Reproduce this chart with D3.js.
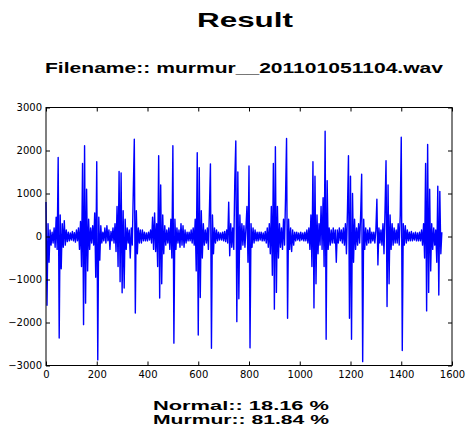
<!DOCTYPE html>
<meta charset="utf-8">
<head>
<style>
  body { margin: 0; background: #fff; }
  .tick text { font-family: "DejaVu Sans", sans-serif; font-size: 10px; fill: #000; }
  .heading { font-family: "Liberation Sans", Arial, sans-serif; font-weight: bold; fill: #000; }
</style>
</head>
<script src="https://d3js.org/d3.v7.min.js"></script>
<div id="chart"></div>
<script>
// texts
const title = "Result";
const fileLabel = "Filename:: murmur__201101051104.wav";
const classNames = ["Normal", "Murmur"];
const classScores = [18.16, 81.84];

// axis ticks
const xTicks = [0, 200, 400, 600, 800, 1000, 1200, 1400, 1600];
const yTicks = [-3000, -2000, -1000, 0, 1000, 2000, 3000];

// waveform: [sample, amplitude]
const waveform = [
  [0,800],[4,-1600],[8,300],[12,-600],[16,150],[20,-200],[24,100],[28,-150],[32,200],[36,-250],
  [40,450],[44,-300],[48,1840],[52,-2360],[56,500],[60,-750],[64,300],[68,-250],[72,370],[76,-200],
  [80,150],[84,-120],[88,100],[92,-100],[96,80],[100,-80],[104,120],[108,-100],[112,90],[116,-130],
  [120,150],[124,-100],[128,200],[132,-300],[136,350],[140,-700],[144,1700],[148,-2050],[152,2110],[156,-1550],
  [160,1100],[164,-800],[168,400],[172,-300],[176,200],[180,-150],[184,250],[188,-200],[192,550],[196,-950],
  [200,1740],[204,-2870],[208,450],[212,-550],[216,250],[220,-150],[224,100],[228,-100],[232,200],[236,-150],
  [240,250],[244,-100],[248,150],[252,-300],[256,120],[260,-100],[264,200],[268,-150],[272,300],[276,-350],
  [280,700],[284,-700],[288,1510],[292,-1050],[296,1480],[300,-1310],[304,600],[308,-1200],[312,400],[316,-300],
  [320,200],[324,-150],[328,150],[332,-500],[336,200],[340,-200],[344,1050],[348,2260],[352,-1780],[356,600],
  [360,-400],[364,200],[368,-150],[372,150],[376,-150],[380,150],[384,-100],[388,100],[392,-100],[396,80],
  [400,-100],[404,100],[408,-80],[412,150],[416,-150],[420,450],[424,-300],[428,550],[432,-350],[436,300],
  [440,-700],[444,1880],[448,-1430],[452,1200],[456,-1100],[460,500],[464,-400],[468,250],[472,-200],[476,150],
  [480,-150],[484,200],[488,-300],[492,400],[496,-500],[500,2110],[504,-2480],[508,400],[512,-300],[516,200],
  [520,-150],[524,150],[528,-250],[532,300],[536,-200],[540,250],[544,-250],[548,150],[552,-150],[556,100],
  [560,-100],[564,100],[568,-100],[572,150],[576,-150],[580,200],[584,-200],[588,400],[592,-800],[596,1950],
  [600,-2290],[604,1600],[608,-1420],[612,600],[616,-500],[620,300],[624,-200],[628,150],[632,-150],[636,200],
  [640,-300],[644,600],[648,1690],[652,-2600],[656,500],[660,-400],[664,200],[668,-150],[672,150],[676,-100],
  [680,100],[684,-80],[688,80],[692,-80],[696,100],[700,-100],[704,120],[708,-120],[712,150],[716,-150],
  [720,800],[724,-450],[728,300],[732,-250],[736,200],[740,-300],[744,1300],[748,2220],[752,-1980],[756,1500],
  [760,-1450],[764,500],[768,-300],[772,300],[776,-200],[780,250],[784,-250],[788,200],[792,700],[796,-600],
  [800,1640],[804,-2590],[808,300],[812,-250],[816,200],[820,-150],[824,150],[828,-100],[832,100],[836,-100],
  [840,100],[844,-80],[848,100],[852,-100],[856,80],[860,-100],[864,120],[868,-150],[872,200],[876,-250],
  [880,300],[884,-400],[888,700],[892,-900],[896,1700],[900,-1690],[904,2090],[908,-1300],[912,700],[916,-500],
  [920,300],[924,-250],[928,200],[932,-300],[936,400],[940,-200],[944,900],[948,2280],[952,-1900],[956,400],
  [960,-300],[964,200],[968,-350],[972,150],[976,-200],[980,100],[984,-100],[988,100],[992,-80],[996,80],
  [1000,-100],[1004,100],[1008,-80],[1012,80],[1016,-100],[1020,100],[1024,-100],[1028,150],[1032,-150],[1036,200],
  [1040,-300],[1044,500],[1048,-700],[1052,1740],[1056,-1660],[1060,1400],[1064,-1100],[1068,500],[1072,-400],[1076,300],
  [1080,-200],[1084,700],[1088,-300],[1092,900],[1096,-700],[1100,2450],[1104,-2390],[1108,1300],[1112,-300],[1116,200],
  [1120,-200],[1124,150],[1128,-150],[1132,200],[1136,-150],[1140,150],[1144,-600],[1148,150],[1152,-150],[1156,200],
  [1160,-100],[1164,150],[1168,-150],[1172,200],[1176,-200],[1180,300],[1184,-400],[1188,600],[1192,1880],[1196,-1900],
  [1200,1400],[1204,-2390],[1208,1000],[1212,-600],[1216,400],[1220,-300],[1224,200],[1228,-200],[1232,300],[1236,-150],
  [1240,500],[1244,1450],[1248,-2910],[1252,400],[1256,-300],[1260,200],[1264,-200],[1268,150],[1272,-150],[1276,200],
  [1280,-150],[1284,100],[1288,-100],[1292,100],[1296,-150],[1300,150],[1304,865],[1308,-660],[1312,200],[1316,-150],
  [1320,150],[1324,-200],[1328,300],[1332,-400],[1336,600],[1340,1760],[1344,-1630],[1348,1200],[1352,-1100],[1356,500],
  [1360,-300],[1364,300],[1368,-200],[1372,200],[1376,-150],[1380,150],[1384,-150],[1388,300],[1392,-200],[1396,500],
  [1400,2310],[1404,-2650],[1408,300],[1412,-200],[1416,250],[1420,-150],[1424,150],[1428,-100],[1432,100],[1436,-100],
  [1440,120],[1444,-100],[1448,80],[1452,-80],[1456,100],[1460,-100],[1464,80],[1468,-100],[1472,100],[1476,-100],
  [1480,150],[1484,-200],[1488,300],[1492,-500],[1496,1700],[1500,-1730],[1504,2140],[1508,-1300],[1512,1100],[1516,-800],
  [1520,300],[1524,-300],[1528,200],[1532,-200],[1536,150],[1540,-600],[1544,1170],[1548,-1360],[1552,1050],[1556,-400],
  [1560,100]
];

var W = 473, H = 426;
var margin = {top: 107.5, right: 21, bottom: 60.5, left: 46};
var width = W - margin.left - margin.right,
    height = H - margin.top - margin.bottom;

var svg = d3.select("#chart").append("svg")
    .attr("width", W)
    .attr("height", H);

// headings (the original render is stretched sideways, so fix widths)
svg.append("text").attr("class", "heading")
    .attr("x", 245).attr("y", 27)
    .attr("text-anchor", "middle")
    .attr("font-size", 21)
    .attr("textLength", 96).attr("lengthAdjust", "spacingAndGlyphs")
    .text(title);

svg.append("text").attr("class", "heading")
    .attr("x", 244).attr("y", 73)
    .attr("text-anchor", "middle")
    .attr("font-size", 15)
    .attr("textLength", 398).attr("lengthAdjust", "spacingAndGlyphs")
    .text(fileLabel);

classNames.forEach(function(name, i) {
  svg.append("text").attr("class", "heading")
      .attr("x", 241).attr("y", 410 + i * 13.5)
      .attr("text-anchor", "middle")
      .attr("font-size", 13.5)
      .attr("textLength", 176).attr("lengthAdjust", "spacingAndGlyphs")
      .text(name + ":: " + classScores[i].toFixed(2) + " %");
});

var g = svg.append("g")
    .attr("transform", "translate(" + margin.left + "," + margin.top + ")");

var x = d3.scaleLinear().domain([0, 1600]).range([0, width]);
var y = d3.scaleLinear().domain([-3000, 3000]).range([height, 0]);

// signal
g.append("path")
    .datum(waveform)
    .attr("fill", "none")
    .attr("stroke", "#0000ff")
    .attr("stroke-width", 1.4)
    .attr("stroke-linejoin", "round")
    .attr("d", d3.line()
        .x(function(d) { return x(d[0]); })
        .y(function(d) { return y(d[1]); }));

// axes, matplotlib style: inward ticks on all four sides
var fmt = d3.format("d");
var xAxis = g.append("g").attr("transform", "translate(0," + height + ")")
    .call(d3.axisBottom(x).tickValues(xTicks).tickFormat(fmt).tickSizeInner(-4).tickSizeOuter(0).tickPadding(5));
var yAxis = g.append("g")
    .call(d3.axisLeft(y).tickValues(yTicks).tickFormat(fmt).tickSizeInner(-4).tickSizeOuter(0).tickPadding(4));
var xTop = g.append("g")
    .call(d3.axisTop(x).tickValues(xTicks).tickSizeInner(-4).tickSizeOuter(0).tickFormat(""));
var yRight = g.append("g").attr("transform", "translate(" + width + ",0)")
    .call(d3.axisRight(y).tickValues(yTicks).tickSizeInner(-4).tickSizeOuter(0).tickFormat(""));

[xAxis, yAxis, xTop, yRight].forEach(function(a) {
  a.select(".domain").remove();
  a.selectAll(".tick line").attr("stroke", "#000");
});

g.append("rect")
    .attr("width", width).attr("height", height)
    .attr("fill", "none")
    .attr("stroke", "#000")
    .attr("stroke-width", 1);
</script>
